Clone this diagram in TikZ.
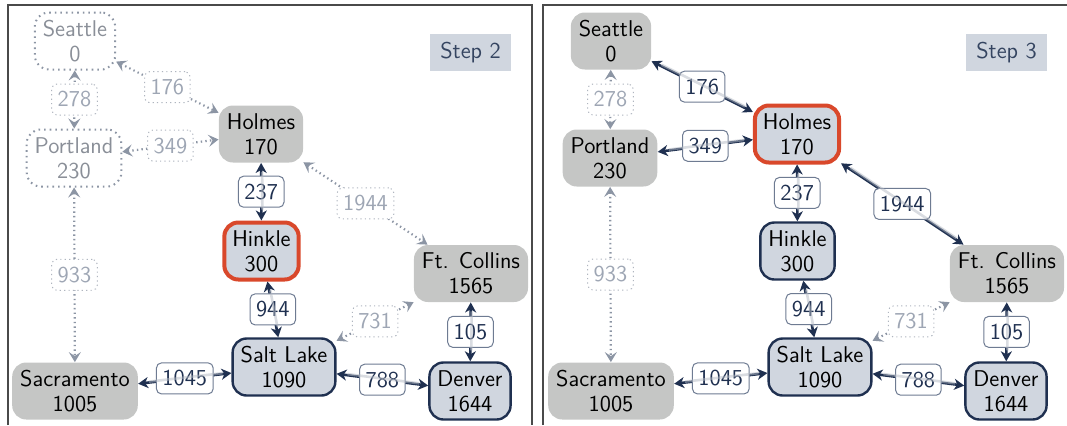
\documentclass[tikz,border=0pt]{standalone}
\usepackage{fontspec}
\usetikzlibrary{arrows.meta}

\definecolor{navy}{HTML}{1F3050}
\definecolor{paleblue}{HTML}{D0D6DF}
\definecolor{stone}{HTML}{C5C6C5}
\definecolor{flame}{HTML}{D9482B}
\definecolor{mist}{HTML}{8C95A4}
\definecolor{labelrim}{HTML}{6E7B92}
\definecolor{fadetext}{HTML}{8A8F98}
\definecolor{fadelabeltext}{HTML}{9EA6B4}
\definecolor{framegray}{HTML}{4A4A4A}
\definecolor{ghostgray}{HTML}{B4BAC4}

\tikzset{
  city/.style={rounded corners=7pt, align=center, inner xsep=4pt, inner ysep=3pt,
    minimum height=28.5pt, text=black,
    font=\sffamily\fontsize{11.4}{12.5}\selectfont},
  settled/.style={city, fill=stone},
  frontier/.style={city, fill=paleblue, draw=navy, line width=1.2pt},
  current/.style={city, fill=paleblue, draw=flame, line width=2pt},
  unseen/.style={city, draw=mist, line width=1pt, dash pattern=on 0.8pt off 2pt,
    text=fadetext, fill=white},
  stepbox/.style={fill=paleblue, text=navy!90, inner xsep=5pt, minimum height=18.5pt,
    minimum width=39.5pt, font=\sffamily\fontsize{11.4}{12.5}\selectfont},
  edgelabel/.style={draw=labelrim, fill=white, rounded corners=2.5pt, line width=0.5pt,
    inner xsep=3pt, inner ysep=2.5pt, minimum height=15.5pt, text=navy, solid,
    font=\sffamily\fontsize{11.4}{12.5}\selectfont},
  fadelabel/.style={edgelabel, draw=mist!70, dash pattern=on 0.6pt off 1.6pt,
    text=fadelabeltext},
  link/.style={draw=navy, line width=1.3pt,
    {Stealth[length=5pt,width=5.5pt,inset=1.5pt]}-{Stealth[length=5pt,width=5.5pt,inset=1.5pt]}},
  faint/.style={draw=mist, line width=1.1pt, dash pattern=on 0.7pt off 1.6pt,
    {Stealth[length=5pt,width=6pt,inset=2pt]}-{Stealth[length=5pt,width=6pt,inset=2pt]}},
  ghost/.style={draw=ghostgray, line width=1.3pt, opacity=0.5,
    shorten <=5pt, shorten >=5pt,
    transform canvas={xshift=0.5pt,yshift=0.5pt}},
  framerule/.style={draw=framegray, line width=0.7pt},
}

\begin{document}
\begin{tikzpicture}[x=0.5pt,y=-0.5pt]
\useasboundingbox (0,0) rectangle (1067,425);

% slide frames
\draw[framerule] (8,425) -- (8,5) -- (532,5) -- (532,425);
\draw[framerule] (543,425) -- (543,5) -- (1067,5);

% ---------- step 2 ----------
\node[unseen]   (sea2) at (75,41)     {Seattle\\0};
\node[unseen]   (por2) at (74,158)    {Portland\\230};
\node[settled]  (hol2) at (261,134)   {Holmes\\170};
\node[current]  (hin2) at (261.5,251) {Hinkle\\300};
\node[settled]  (ftc2) at (471,273.5) {Ft. Collins\\1565};
\node[settled]  (sac2) at (75,391)    {Sacramento\\1005};
\node[frontier] (slc2) at (284,367)   {Salt Lake\\1090};
\node[frontier] (den2) at (470,391)   {Denver\\1644};
\node[stepbox]  (tag2) at (470.5,52.5) {Step 2};

\draw[faint] (sea2) -- node[fadelabel] {278} (por2);
\draw[faint] (sea2) -- node[fadelabel] {176} (hol2);
\draw[faint] (por2) -- node[fadelabel] {349} (hol2);
\draw[faint] (hol2) -- node[fadelabel] {1944} (ftc2);
\draw[faint] (por2) -- node[fadelabel] {933} (sac2);
\draw[faint] (slc2) -- node[fadelabel] {731} (ftc2);
\draw[link]  (hol2) -- node[edgelabel] {237} (hin2);
\draw[link]  (hin2) -- node[edgelabel] {944} (slc2);
\draw[link]  (ftc2) -- node[edgelabel] {105} (den2);
\draw[link]  (sac2) -- node[edgelabel] {1045} (slc2);
\draw[link]  (slc2) -- node[edgelabel] {788} (den2);

\draw[ghost] (hol2) -- (hin2);
\draw[ghost] (hin2) -- (slc2);
\draw[ghost] (ftc2) -- (den2);
\draw[ghost] (sac2) -- (slc2);
\draw[ghost] (slc2) -- (den2);

% ---------- step 3 ----------
\node[settled]  (sea3) at (611,41)     {Seattle\\0};
\node[settled]  (por3) at (610,158)    {Portland\\230};
\node[current]  (hol3) at (797,134)    {Holmes\\170};
\node[frontier] (hin3) at (797.5,251)  {Hinkle\\300};
\node[settled]  (ftc3) at (1007,273.5) {Ft. Collins\\1565};
\node[settled]  (sac3) at (611,391)    {Sacramento\\1005};
\node[frontier] (slc3) at (820,367)    {Salt Lake\\1090};
\node[frontier] (den3) at (1006,391)   {Denver\\1644};
\node[stepbox]  (tag3) at (1006.5,52.5) {Step 3};

\draw[faint] (sea3) -- node[fadelabel] {278} (por3);
\draw[faint] (por3) -- node[fadelabel] {933} (sac3);
\draw[faint] (slc3) -- node[fadelabel] {731} (ftc3);
\draw[link]  (sea3) -- node[edgelabel] {176} (hol3);
\draw[link]  (por3) -- node[edgelabel] {349} (hol3);
\draw[link]  (hol3) -- node[edgelabel] {1944} (ftc3);
\draw[link]  (hol3) -- node[edgelabel] {237} (hin3);
\draw[link]  (hin3) -- node[edgelabel] {944} (slc3);
\draw[link]  (ftc3) -- node[edgelabel] {105} (den3);
\draw[link]  (sac3) -- node[edgelabel] {1045} (slc3);
\draw[link]  (slc3) -- node[edgelabel] {788} (den3);

\draw[ghost] (sea3) -- (hol3);
\draw[ghost] (por3) -- (hol3);
\draw[ghost] (hol3) -- (ftc3);
\draw[ghost] (hol3) -- (hin3);
\draw[ghost] (hin3) -- (slc3);
\draw[ghost] (ftc3) -- (den3);
\draw[ghost] (sac3) -- (slc3);
\draw[ghost] (slc3) -- (den3);
\end{tikzpicture}
\end{document}
